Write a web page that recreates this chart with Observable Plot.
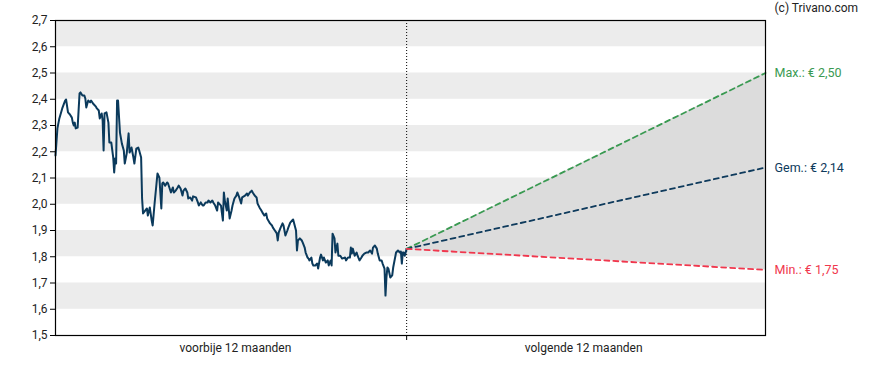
<!DOCTYPE html>
<html>
<head>
<meta charset="utf-8">
<script src="https://cdn.jsdelivr.net/npm/d3@7"></script>
<script src="https://cdn.jsdelivr.net/npm/@observablehq/plot@0.6"></script>
<style>
  html, body { margin: 0; padding: 0; background: #fff; }
  #chart { width: 888px; height: 370px; }
</style>
</head>
<body>
<div id="chart"></div>
<script>
// Past 12 months: days relative to today, and price (EUR)
const pastDays = [-365,-363,-361,-358,-355,-354,-352,-350,-348,-347,-346,-345,-344,-342,-340,-339,-337,-335,-334,-333,-331,-329,-328,-326,-323,-322,-320,-319,-317,-316,-315,-314,-312,-310,-309,-307,-305,-304,-303,-302,-301,-300,-298,-296,-294,-293,-291,-289,-288,-286,-284,-283,-281,-279,-278,-276,-275,-274,-270,-269,-267,-265,-264,-262,-260,-259,-257,-255,-254,-253,-251,-249,-248,-245,-243,-242,-240,-238,-237,-235,-233,-232,-230,-228,-227,-225,-223,-222,-219,-217,-216,-214,-212,-211,-209,-207,-206,-204,-202,-201,-199,-197,-196,-193,-191,-190,-189,-187,-186,-184,-182,-181,-179,-177,-176,-174,-172,-171,-168,-166,-165,-163,-161,-160,-158,-156,-155,-153,-151,-150,-148,-146,-145,-142,-140,-139,-137,-135,-134,-133,-131,-129,-128,-126,-124,-123,-121,-119,-118,-115,-114,-113,-111,-109,-108,-106,-105,-103,-102,-101,-99,-98,-97,-95,-93,-92,-90,-89,-87,-86,-84,-82,-81,-79,-78,-77,-75,-74,-72,-71,-69,-67,-64,-63,-61,-59,-58,-57,-56,-54,-52,-51,-49,-47,-46,-44,-42,-40,-38,-36,-35,-33,-31,-30,-28,-26,-25,-23,-22,-21,-20,-19,-17,-15,-14,-11,-9,-7,-6,-5,-4,-3,-2,0];
const pastPrices = [2.186,2.289,2.327,2.365,2.395,2.399,2.350,2.342,2.330,2.311,2.300,2.311,2.289,2.292,2.422,2.426,2.414,2.414,2.403,2.369,2.395,2.388,2.395,2.384,2.372,2.365,2.357,2.327,2.346,2.319,2.205,2.346,2.350,2.311,2.235,2.235,2.178,2.121,2.174,2.155,2.395,2.395,2.273,2.231,2.205,2.155,2.193,2.270,2.197,2.216,2.178,2.155,2.212,2.216,2.205,2.178,2.022,1.965,1.984,1.957,1.988,1.938,1.919,2.003,2.079,2.117,2.101,1.984,2.079,2.083,2.071,2.083,2.079,2.045,2.064,2.045,2.052,2.064,2.071,2.060,2.033,2.052,2.060,2.045,2.022,2.026,2.014,2.030,2.026,2.007,1.995,2.007,1.995,1.995,2.007,2.007,2.014,2.007,2.014,2.007,1.995,1.976,2.007,1.995,1.938,2.045,2.014,1.976,2.022,1.946,1.976,1.995,2.022,2.033,2.045,2.026,2.003,2.026,2.033,2.041,2.033,2.045,2.052,2.045,2.033,2.026,2.003,1.988,1.976,1.969,1.957,1.965,1.946,1.927,1.919,1.911,1.900,1.889,1.862,1.892,1.911,1.927,1.919,1.881,1.900,1.911,1.930,1.938,1.942,1.900,1.824,1.862,1.870,1.862,1.854,1.835,1.816,1.797,1.793,1.786,1.797,1.774,1.767,1.767,1.774,1.755,1.797,1.808,1.786,1.797,1.778,1.786,1.767,1.786,1.767,1.888,1.870,1.816,1.850,1.804,1.804,1.793,1.797,1.786,1.797,1.797,1.835,1.812,1.831,1.804,1.816,1.804,1.786,1.797,1.804,1.812,1.816,1.816,1.824,1.812,1.835,1.843,1.831,1.812,1.786,1.786,1.774,1.755,1.652,1.721,1.759,1.755,1.721,1.729,1.759,1.816,1.824,1.816,1.820,1.774,1.816,1.816,1.804,1.830];

// Next 12 months: forecast fan
const forecastDays = [0, 373];
const forecastMax = [1.83, 2.50];
const forecastAvg = [1.83, 2.14];
const forecastMin = [1.83, 1.75];

// Labels
const yTicks = [1.5,1.6,1.7,1.8,1.9,2.0,2.1,2.2,2.3,2.4,2.5,2.6,2.7];
const bandStarts = [1.6, 1.8, 2.0, 2.2, 2.4, 2.6];
const periodLabels = ["voorbije 12 maanden", "volgende 12 maanden"];
const periodCenters = [-178, 184];
const endLabels = ["Max.: € 2,50", "Gem.: € 2,14", "Min.: € 1,75"];
const endValues = [2.50, 2.14, 1.75];
const endColors = ["#3a9a52", "#0e3a5c", "#f0374d"];
const credit = "(c) Trivano.com";

const past = pastDays.map((d, i) => ({d, v: pastPrices[i]}));
const fc = forecastDays.map((d, i) => ({d, max: forecastMax[i], avg: forecastAvg[i], min: forecastMin[i]}));
const bands = bandStarts.map(b => ({y1: b, y2: +(b + 0.1).toFixed(1)}));
const ends = endLabels.map((t, i) => ({t, v: endValues[i], c: endColors[i]}));
const comma = d => d.toFixed(1).replace(".", ",");

const chart = Plot.plot({
  width: 888,
  height: 370,
  marginLeft: 55,
  marginRight: 123,
  marginTop: 20,
  marginBottom: 35,
  style: {fontFamily: "Roboto, sans-serif", fontSize: "12px", color: "#222", background: "#fff"},
  x: {domain: [-365, 373]},
  y: {domain: [1.5, 2.7]},
  marks: [
    Plot.rect(bands, {y1: "y1", y2: "y2", fill: "#ececec"}),
    Plot.areaY(fc, {x: "d", y1: "min", y2: "max", fill: "#dcdcdc"}),
    Plot.ruleX([0], {stroke: "#000", strokeDasharray: "1,2", strokeWidth: 1}),
    Plot.line(past, {x: "d", y: "v", stroke: "#0b3a5c", strokeWidth: 2, strokeLinejoin: "round"}),
    Plot.line(fc, {x: "d", y: "max", stroke: endColors[0], strokeWidth: 1.8, strokeDasharray: "5,4"}),
    Plot.line(fc, {x: "d", y: "avg", stroke: endColors[1], strokeWidth: 1.8, strokeDasharray: "5,4"}),
    Plot.line(fc, {x: "d", y: "min", stroke: endColors[2], strokeWidth: 1.8, strokeDasharray: "5,4"}),
    Plot.frame({stroke: "#000", strokeWidth: 1.2}),
    Plot.axisY(yTicks, {tickSize: 5, tickPadding: 3, tickFormat: comma, fill: "#222", stroke: "#000"}),
    Plot.axisX([0], {tickSize: 5, tickFormat: () => "", stroke: "#000", label: null}),
    Plot.axisX(periodCenters, {tickSize: 0, tickPadding: 8, tickFormat: (d, i) => periodLabels[i], fill: "#222", label: null}),
    Plot.text(ends, {x: forecastDays[1], y: "v", text: "t", fill: "c", dx: 9, textAnchor: "start", fontSize: 12.5}),
    Plot.text([credit], {x: forecastDays[1], y: yTicks[yTicks.length - 1], text: d => d, dx: 9, dy: -12, textAnchor: "start", fill: "#222", fontSize: 12})
  ]
});
document.getElementById("chart").appendChild(chart);
</script>
</body>
</html>
